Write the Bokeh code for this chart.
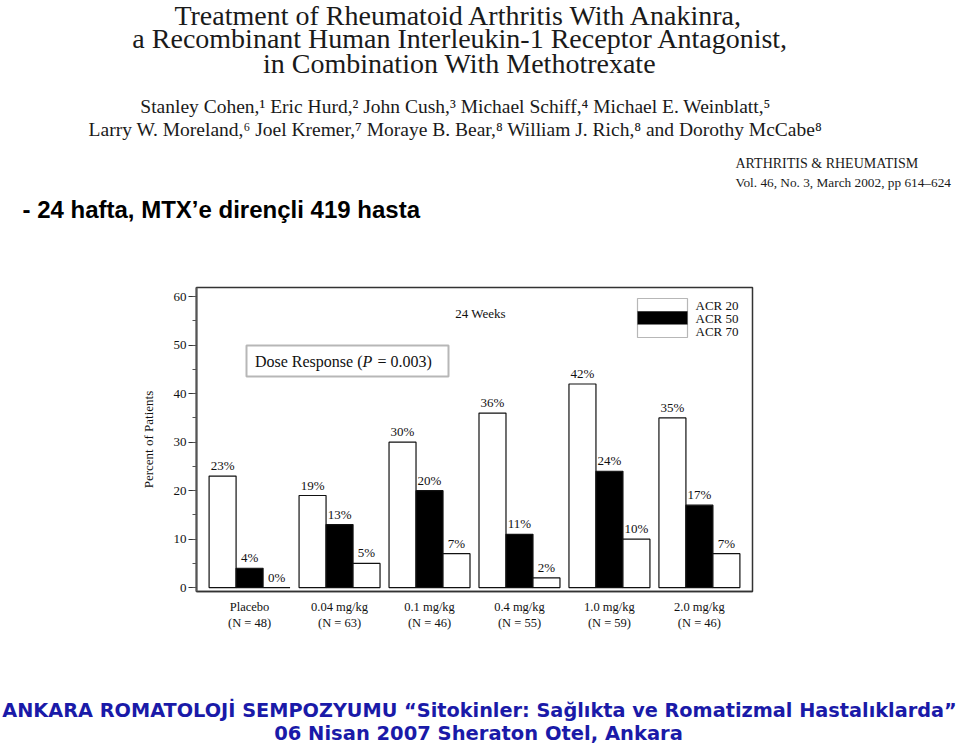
from bokeh.plotting import figure
from bokeh.layouts import column
from bokeh.models import (Range1d, ColumnDataSource, LabelSet, Label, BoxAnnotation,
                          FixedTicker, SingleIntervalTicker)
from bokeh.transform import dodge
from bokeh.embed import file_html
from bokeh.resources import INLINE

# ---------------- data ----------------
groups = ["Placebo\n(N = 48)", "0.04 mg/kg\n(N = 63)", "0.1 mg/kg\n(N = 46)",
          "0.4 mg/kg\n(N = 55)", "1.0 mg/kg\n(N = 59)", "2.0 mg/kg\n(N = 46)"]
acr20 = [23, 19, 30, 36, 42, 35]
acr50 = [4, 13, 20, 11, 24, 17]
acr70 = [0, 5, 7, 2, 10, 7]
series_names = ["ACR 20", "ACR 50", "ACR 70"]
y_ticks = [0, 10, 20, 30, 40, 50, 60]

SERIF = "Liberation Serif"
SANS = "Liberation Sans"
INK = "#111111"
FOOT = "#1a1aa8"
series_fill = ["white", "black", "white"]

# layout constants (page pixels)
W_PAGE = 960
H_TOP, H_MID, H_BOT = 230, 430, 87
FRAME_LEFT, FRAME_RIGHT, FRAME_TOP, FRAME_BOTTOM = 196, 752, 287, 591


def text_panel(height):
    f = figure(width=W_PAGE, height=height, output_backend="svg", toolbar_location=None,
               x_range=Range1d(0, W_PAGE), y_range=Range1d(height, 0),
               x_axis_type=None, y_axis_type=None, min_border=0, frame_align=False)
    f.outline_line_color = None
    f.xgrid.visible = False
    f.ygrid.visible = False
    f.background_fill_color = "white"
    f.border_fill_color = "white"
    return f


def put(f, text, x, y, size, font=SERIF, color=INK, align="center", style="normal"):
    f.add_layout(Label(x=x, y=y, text=text, text_align=align, text_baseline="middle",
                       text_font=font, text_font_size=size, text_color=color,
                       text_font_style=style))


# ---------------- top panel: paper header ----------------
top = text_panel(H_TOP)
HEAD = "#1a1a1a"
put(top, "Treatment of Rheumatoid Arthritis With Anakinra,", 459, 15, "28px", color=HEAD)
put(top, "a Recombinant Human Interleukin-1 Receptor Antagonist,", 460, 38, "28px", color=HEAD)
put(top, "in Combination With Methotrexate", 459, 63, "28px", color=HEAD)
put(top, "Stanley Cohen,\u00b9 Eric Hurd,\u00b2 John Cush,\u00b3 Michael Schiff,\u2074 Michael E. Weinblatt,\u2075",
    455, 106, "19.5px", color=HEAD)
put(top, "Larry W. Moreland,\u2076 Joel Kremer,\u2077 Moraye B. Bear,\u2078 William J. Rich,\u2078 and Dorothy McCabe\u2078",
    455, 129, "19.5px", color=HEAD)
put(top, "ARTHRITIS & RHEUMATISM", 735, 163, "14px", align="left", color=HEAD)
put(top, "Vol. 46, No. 3, March 2002, pp 614\u2013624", 735, 182, "13.3px", align="left", color=HEAD)
put(top, "- 24 hafta, MTX\u2019e dirençli 419 hasta", 22, 209, "24px", font=SANS, color="black",
    align="left", style="bold")

# ---------------- middle panel: bar chart ----------------
src = ColumnDataSource(dict(
    x=list(range(len(groups))),
    acr20=acr20, acr50=acr50, acr70=acr70,
    l20=[f"{v}%" for v in acr20], l50=[f"{v}%" for v in acr50], l70=[f"{v}%" for v in acr70],
))

p = figure(width=W_PAGE, height=H_MID, output_backend="svg", toolbar_location=None,
           x_range=Range1d(-0.59, 5.59), y_range=Range1d(-0.8, 61.9), frame_align=False,
           min_border_left=FRAME_LEFT, min_border_right=W_PAGE - FRAME_RIGHT,
           min_border_top=FRAME_TOP - H_TOP, min_border_bottom=H_TOP + H_MID - FRAME_BOTTOM)
p.background_fill_color = "white"
p.border_fill_color = "white"
p.outline_line_color = "#333333"
p.outline_line_width = 1.5
p.xgrid.visible = False
p.ygrid.visible = False

p.yaxis.ticker = SingleIntervalTicker(interval=10, num_minor_ticks=2)
p.yaxis.major_tick_out = 8
p.yaxis.major_tick_in = 0
p.yaxis.minor_tick_out = 4
p.yaxis.minor_tick_in = 0
p.yaxis.axis_line_color = "#555555"
p.yaxis.axis_line_width = 2
p.yaxis.major_tick_line_color = "#333333"
p.yaxis.minor_tick_line_color = "#555555"
p.yaxis.major_label_text_font = SERIF
p.yaxis.major_label_text_font_size = "13px"
p.yaxis.major_label_text_color = INK
p.yaxis.major_label_standoff = 2
p.yaxis.axis_label = "Percent of Patients"
p.yaxis.axis_label_text_font = SERIF
p.yaxis.axis_label_text_font_size = "13px"
p.yaxis.axis_label_text_font_style = "normal"
p.yaxis.axis_label_text_color = INK
p.yaxis.axis_label_standoff = 15

p.xaxis.ticker = FixedTicker(ticks=list(range(len(groups))))
p.xaxis.major_label_overrides = {i: g for i, g in enumerate(groups)}
p.xaxis.major_tick_out = 0
p.xaxis.major_tick_in = 0
p.xaxis.minor_tick_out = 0
p.xaxis.minor_tick_in = 0
p.xaxis.axis_line_color = "#333333"
p.xaxis.axis_line_width = 1.5
p.xaxis.major_label_text_font = SERIF
p.xaxis.major_label_text_font_size = "12.5px"
p.xaxis.major_label_text_color = INK
p.xaxis.major_label_standoff = 8

W = 0.3
series_cols = ["acr20", "acr50", "acr70"]
label_cols = ["l20", "l50", "l70"]
offsets = [-W, 0, W]
for off, col, lab, fill in zip(offsets, series_cols, label_cols, series_fill):
    p.vbar(x=dodge("x", off, range=p.x_range), top=col, width=W, source=src,
           fill_color=fill, line_color=INK, line_width=1.2)
    p.add_layout(LabelSet(x=dodge("x", off, range=p.x_range), y=col, text=lab, source=src,
                          y_offset=3, text_align="center", text_baseline="bottom",
                          text_font=SERIF, text_font_size="13px", text_color=INK))


def inner(text, px, py, size, align="center", style="normal"):
    p.add_layout(Label(x=px - FRAME_LEFT, y=FRAME_BOTTOM - py, x_units="screen", y_units="screen",
                       text=text, text_align=align, text_baseline="middle",
                       text_font=SERIF, text_font_size=size, text_color=INK,
                       text_font_style=style))


def screen_box(l, r, t, b, fill, width):
    p.add_layout(BoxAnnotation(left=l - FRAME_LEFT, right=r - FRAME_LEFT,
                               bottom=FRAME_BOTTOM - b, top=FRAME_BOTTOM - t,
                               left_units="screen", right_units="screen",
                               bottom_units="screen", top_units="screen",
                               fill_color=fill, fill_alpha=1 if fill else 0,
                               line_color="#111111", line_width=width))


# legend (stacked swatches, as in the original figure)
SW_TOP, SW_H = 298, 13
for i, (name, fill) in enumerate(zip(series_names, series_fill)):
    t = SW_TOP + i * SW_H
    screen_box(637, 687, t, t + SW_H, fill, 1.2)
    inner(name, 695, t + SW_H / 2 + 0.5, "13px", align="left")

inner("24 Weeks", 480, 313, "13px")
screen_box(246, 448, 345, 376, None, 2)
inner("Dose Response (", 362, 361, "16px", align="right")
inner("P", 367, 361, "16px", style="italic")
inner("= 0.003)", 377, 361, "16px", align="left")

# ---------------- bottom panel: meeting footer ----------------
bot = text_panel(H_BOT)
base = H_TOP + H_MID
put(bot, "ANKARA ROMATOLOJ\u0130 SEMPOZYUMU \u201cSitokinler: Sağlıkta ve Romatizmal Hastalıklarda\u201d",
    479, 710 - base, "19.3px", font="DejaVu Sans", color=FOOT, style="bold")
put(bot, "06 Nisan 2007 Sheraton Otel, Ankara", 478, 733 - base, "19.5px", font="DejaVu Sans",
    color=FOOT, style="bold")

layout = column(top, p, bot, spacing=0)
open("out.html", "w").write(file_html(layout, INLINE))
